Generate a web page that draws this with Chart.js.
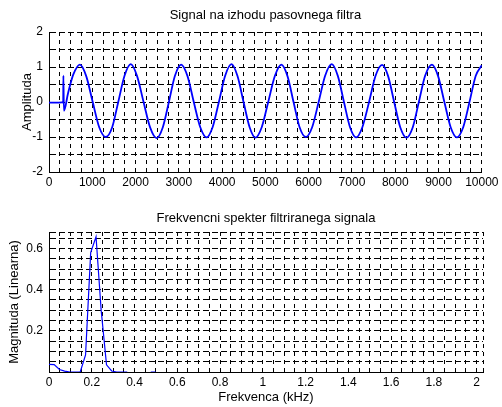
<!DOCTYPE html>
<html>
<head>
<meta charset="utf-8">
<script src="https://cdn.jsdelivr.net/npm/chart.js@4/dist/chart.umd.min.js"></script>
<style>
  body { margin: 0; background: #fff; }
  .box { position: absolute; left: 0; width: 502px; }
</style>
</head>
<body>
<div class="box" style="top:0;height:205px"><canvas id="signal"></canvas></div>
<div class="box" style="top:205px;height:202px"><canvas id="spekter"></canvas></div>
<script>
// signal na izhodu (odcitano s slike)
const sigT = [0, 150, 300, 328, 332, 345, 440, 560, 714, 860, 1010, 1160, 1313, 1460, 1600, 1745,
  1889, 2035, 2185, 2340, 2488, 2630, 2770, 2910, 3053, 3200, 3345, 3495, 3641, 3780, 3925, 4070,
  4217, 4355, 4495, 4635, 4770, 4915, 5065, 5220, 5369, 5510, 5650, 5790, 5933, 6080, 6230, 6380,
  6532, 6675, 6815, 6955, 7097, 7240, 7395, 7545, 7696, 7835, 7975, 8115, 8260, 8405, 8545, 8690,
  8848, 8990, 9135, 9280, 9424, 9570, 9715, 9860, 10000];
const sigAmp = [-0.02, -0.02, -0.01, -0.02, 0.75, -0.25, 0.25, 0.78, 1.07, 0.74, 0.0, -0.72, -1.0, -0.72, 0.0, 0.75,
  1.08, 0.74, 0.0, -0.74, -1.03, -0.72, 0.0, 0.75, 1.07, 0.74, 0.0, -0.72, -1.01, -0.72, 0.0, 0.75,
  1.08, 0.74, 0.0, -0.72, -1.02, -0.72, 0.0, 0.75, 1.07, 0.74, 0.0, -0.72, -1.0, -0.72, 0.0, 0.75,
  1.08, 0.74, 0.0, -0.72, -1.01, -0.72, 0.0, 0.75, 1.06, 0.74, 0.0, -0.72, -1.02, -0.72, 0.0, 0.75,
  1.07, 0.74, 0.0, -0.72, -1.01, -0.72, 0.0, 0.75, 1.05];

// spekter
const specF = [0, 0.024, 0.049, 0.073, 0.098, 0.122, 0.146, 0.171, 0.195, 0.220, 0.244, 0.269, 0.293,
  0.317, 0.342, 0.366, 0.42, 0.476, 0.50];
const specMag = [0.037, 0.036, 0.012, 0.004, 0, 0, 0, 0.083, 0.58, 0.657, 0.30, 0.035, 0.005,
  0, 0, 0, null, 0, 0];

const sigXTicks = [0, 1000, 2000, 3000, 4000, 5000, 6000, 7000, 8000, 9000, 10000];
const sigYTicks = [-2, -1, 0, 1, 2];
const specXTicks = [0, 0.2, 0.4, 0.6, 0.8, 1, 1.2, 1.4, 1.6, 1.8, 2];
const specYTicks = [0.2, 0.4, 0.6];

const FAM = "'Liberation Sans', Arial, sans-serif";
const fnt = { family: FAM, size: 12, weight: 'normal' };
const lblFnt = { family: FAM, size: 13, weight: 'normal' };

function hasTick(list, v) {
  return list.some(t => Math.abs(t - v) < 1e-6);
}

// grid on every step, labels only where the list says
function gridTicks(min, max, step) {
  return s => {
    const t = [];
    for (let k = 0; min + k * step <= max + 1e-9; k++) t.push({ value: +(min + k * step).toFixed(4) });
    if (Math.abs(t[t.length - 1].value - max) > 1e-6) t.push({ value: max });
    s.ticks = t;
  };
}

function axisX(min, max, step, list, h, title) {
  return {
    type: 'linear', min: min, max: max,
    afterBuildTicks: gridTicks(min, max, step),
    ticks: { autoSkip: false, maxRotation: 0, padding: 3.5, color: '#000', font: fnt,
      callback: v => hasTick(list, v) ? String(Math.round(v * 10) / 10) : '' },
    grid: { color: '#000', lineWidth: 1, drawTicks: false },
    border: { color: '#000', width: 1, dash: [4, 4] },
    title: title ? { display: true, text: title, color: '#000', font: lblFnt, padding: { top: 0, bottom: 2.2 } } : { display: false },
    afterFit: s => { s.height = h; }
  };
}

function axisY(min, max, step, list, title, tpad) {
  return {
    min: min, max: max,
    afterBuildTicks: gridTicks(min, max, step),
    ticks: { autoSkip: false, padding: 6, color: '#000', font: fnt,
      callback: v => hasTick(list, v) ? String(v) : '' },
    grid: { color: '#000', lineWidth: 1, drawTicks: false },
    border: { color: '#000', width: 1, dash: [6, 3] },
    title: { display: true, text: title, color: '#000', font: lblFnt, padding: { top: tpad, bottom: 0 } },
    afterFit: s => { s.width = 49; }
  };
}

function plotTitle(text, pt, pb) {
  return { display: true, text: text, fullSize: false, color: '#000', font: lblFnt, padding: { top: pt, bottom: pb } };
}

new Chart(document.getElementById('signal'), {
  type: 'line',
  data: {
    datasets: [{
      data: sigT.map((t, i) => ({ x: t, y: sigAmp[i] })),
      borderColor: 'rgb(0,0,255)',
      borderWidth: 1.8,
      pointRadius: 0,
      cubicInterpolationMode: 'monotone',
      fill: false
    }]
  },
  options: {
    responsive: true,
    maintainAspectRatio: false,
    animation: false,
    layout: { padding: { left: 0, right: 19, top: 0, bottom: 0 } },
    plugins: {
      legend: { display: false },
      tooltip: { enabled: false },
      title: plotTitle('Signal na izhodu pasovnega filtra', 7.2, 9.2)
    },
    scales: {
      x: axisX(0, 10000, 250, sigXTicks, 33, null),
      y: axisY(-2, 2, 0.5, sigYTicks, 'Amplituda', 19.7)
    }
  }
});

new Chart(document.getElementById('spekter'), {
  type: 'line',
  data: {
    datasets: [{
      data: specF.map((f, i) => ({ x: f, y: specMag[i] })),
      borderColor: 'rgb(0,0,255)',
      borderWidth: 1.2,
      pointRadius: 0,
      tension: 0,
      spanGaps: false,
      fill: false
    }]
  },
  options: {
    responsive: true,
    maintainAspectRatio: false,
    animation: false,
    layout: { padding: { left: 0, right: 19, top: 0, bottom: 0 } },
    plugins: {
      legend: { display: false },
      tooltip: { enabled: false },
      title: plotTitle('Frekvencni spekter filtriranega signala', 5.2, 6.2)
    },
    scales: {
      x: axisX(0, 2.03, 0.05, specXTicks, 35, 'Frekvenca (kHz)'),
      y: axisY(0, 0.68, 0.05, specYTicks, 'Magnituda (Linearna)', 6.2)
    }
  }
});
</script>
</body>
</html>
